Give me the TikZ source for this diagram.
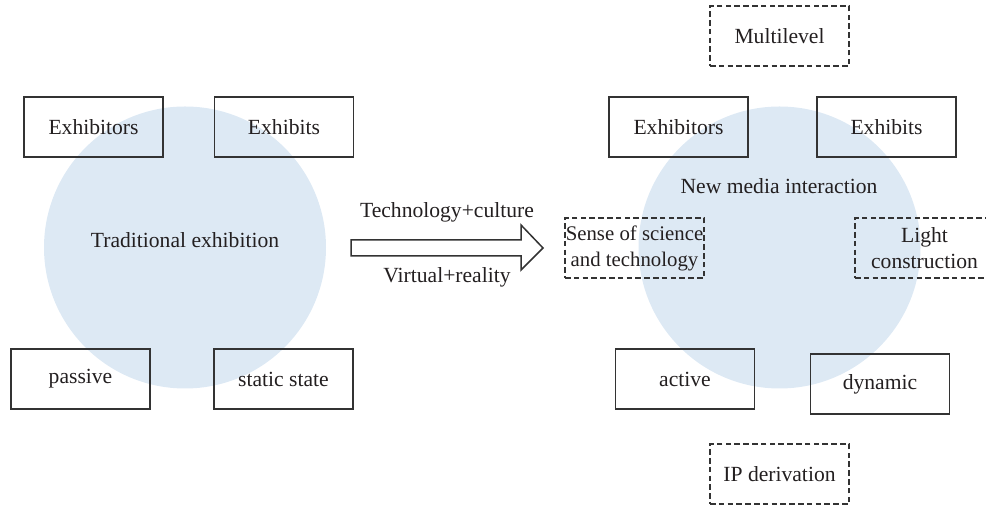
\documentclass[tikz,border=0pt]{standalone}
\usepackage{fontspec}
\setmainfont{Liberation Serif}
\usepackage{xcolor}
\usetikzlibrary{calc}

\definecolor{circblue}{RGB}{221,233,244}
\definecolor{linegray}{RGB}{51,51,51}
\definecolor{textgray}{RGB}{35,31,32}

\begin{document}
\begin{tikzpicture}[
    x=0.5pt, y=-0.5pt,
    font=\fontsize{10.8}{13}\selectfont, text=textgray,
    exbox/.style={draw=linegray, line width=0.75pt, minimum width=69.5pt,
                  minimum height=30pt, inner sep=0pt, align=center},
    dashbox/.style={exbox, dash pattern=on 2.8pt off 1.6pt},
    blob/.style={circle, fill=circblue, minimum size=141pt, inner sep=0pt},
    bigarrow/.style={draw=linegray, line width=0.75pt, fill=white},
]
\useasboundingbox (0,0) rectangle (986,506);

% --- Left: traditional exhibition ---
\node[blob] (tradc) at (185,247.5) {};
\node (trad) at (185,240) {Traditional exhibition};

\node[exbox] (lexhibitors) at (93.5,127) {Exhibitors};
\node[exbox] (lexhibits)   at (284,127)  {Exhibits};
\node[exbox] (passive)     at (80.5,379) {passive};
\node[exbox] (static)      at (283.5,379) {static state};

% --- Middle: transition arrow ---
\coordinate (arrtail) at (351,248);
\coordinate (arrtip)  at (543,248);
\draw[bigarrow] ($(arrtail)+(0,-8)$) -- (521,240) -- (521,225) -- (arrtip)
    -- (521,270) -- (521,256) -- ($(arrtail)+(0,8)$) -- cycle;
\node (techlbl) at (447,212) {Technology+culture};
\node (virtlbl) at (447,277) {Virtual+reality};

% --- Right: new media interaction ---
\node[blob] (newc) at (779.5,247.5) {};
\node (newmedia) at (779,186) {New media interaction};

\node[exbox] (rexhibitors) at (678.5,127) {Exhibitors};
\node[exbox] (rexhibits)   at (886.5,127) {Exhibits};
\node[exbox] (active)      at (685,379)   {active};
\node[exbox] (dynamic)     at (880,384)   {dynamic};

\node[dashbox] (multilevel) at (779.5,36)  {Multilevel};
\node[dashbox] (ipderiv)    at (779.5,474) {IP derivation};
\node[dashbox, font=\fontsize{10.4}{13}\selectfont] (scitech) at (634.5,248)
    {Sense of science\\and technology};
\node[dashbox] (light) at (924.5,248) {Light\\construction};

\end{tikzpicture}
\end{document}
